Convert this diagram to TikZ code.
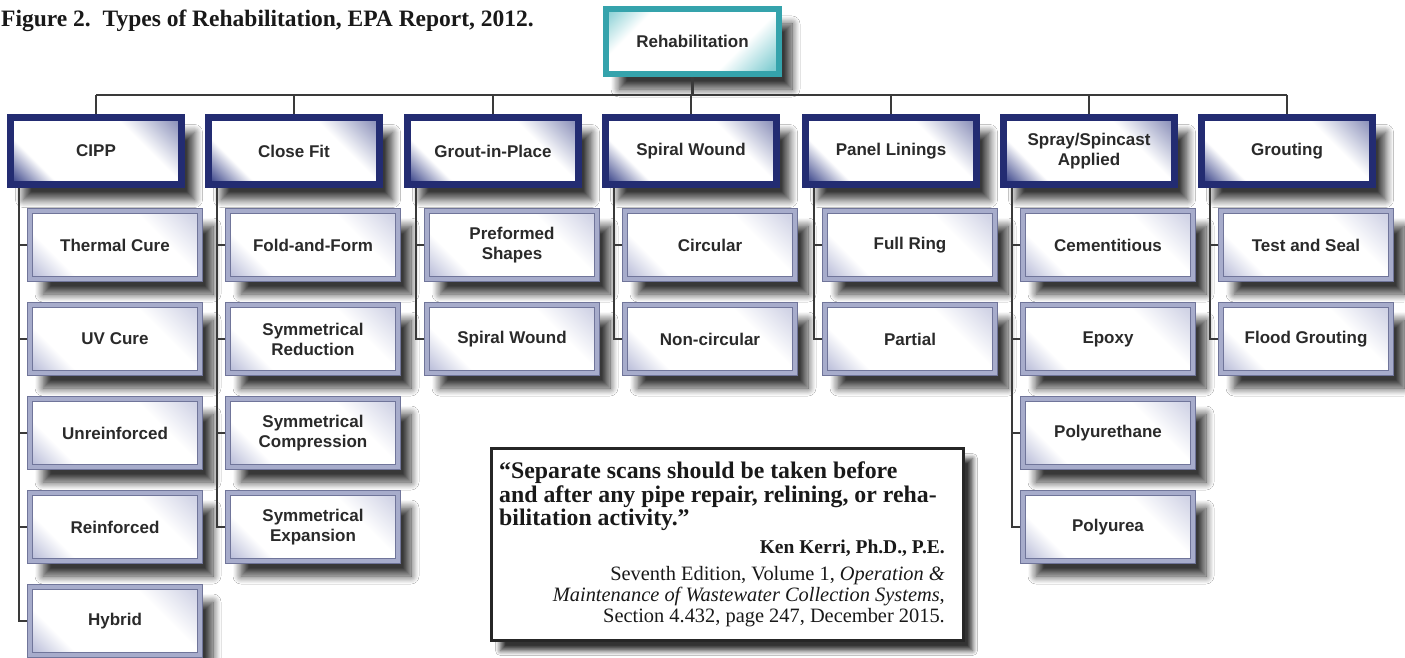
\documentclass[tikz,border=0pt]{standalone}
\usepackage{fontspec}
\setmainfont{Liberation Serif}
\newfontfamily\lsans{Liberation Sans}
\usetikzlibrary{shadows.blur,calc}
\definecolor{navyb}{HTML}{232C72}
\definecolor{navyg}{HTML}{2A3580}
\definecolor{lavb}{HTML}{A7ACCB}
\definecolor{lavd}{HTML}{70759A}
\definecolor{lavg}{HTML}{B4B8D6}
\definecolor{tealb}{HTML}{35A3AC}
\definecolor{tealg}{HTML}{4DB8BF}
\definecolor{linec}{HTML}{3A3A3A}
\definecolor{txt}{HTML}{2A2A2A}
\pgfdeclarehorizontalshading{pshade}{100bp}{color(0bp)=(navyg); color(15bp)=(navyg); color(29bp)=(white); color(66bp)=(white); color(82bp)=(navyg!50!white); color(100bp)=(navyg)}
\pgfdeclarehorizontalshading{cshade}{100bp}{color(0bp)=(lavg); color(15bp)=(lavg); color(29bp)=(white); color(66bp)=(white); color(82bp)=(lavg!60!white); color(100bp)=(lavg)}
\pgfdeclarehorizontalshading{tshade}{100bp}{color(0bp)=(tealg); color(15bp)=(tealg!70!white); color(29bp)=(white); color(66bp)=(white); color(82bp)=(tealg!70!white); color(100bp)=(tealg)}
\tikzset{
  lbl/.style={font=\lsans\bfseries\fontsize{17}{20}\selectfont, text=txt, align=center, inner sep=0pt},
  shad/.style={blur shadow={shadow xshift=13pt, shadow yshift=-15pt, shadow blur radius=8pt, shadow opacity=78, shadow blur steps=10}},
  parentbox/.style={lbl, shad, shade, shading=pshade, shading angle=45, draw=navyb, line width=7pt, minimum width=171pt, minimum height=67pt, outer sep=3.5pt},
  childbox/.style={lbl, shad, shade, shading=cshade, shading angle=45, draw=lavd, double=lavb, double distance=4pt, line width=1pt, minimum width=170pt, minimum height=68pt, outer sep=3pt},
  rootbox/.style={lbl, shad, shade, shading=tshade, shading angle=-45, draw=tealb, line width=6pt, minimum width=173pt, minimum height=65pt, outer sep=3pt},
  conn/.style={draw=linec, line width=2.4pt},
  quotefont/.style={font=\bfseries\fontsize{23.8}{24}\selectfont, inner sep=0pt, text=black!90},
  citefont/.style={font=\fontsize{20.4}{21}\selectfont, inner sep=0pt, text=black!90},
}
\begin{document}
\begin{tikzpicture}[x=1pt,y=-1pt]
\useasboundingbox (0,0) rectangle (1405,658);
\fill[white] (0,0) rectangle (1405,658);

% title
\node[anchor=base west, font=\bfseries\fontsize{23.5}{26}\selectfont, inner sep=0pt, text=black!90] (title) at (1,27) {Figure 2.\ \ Types of Rehabilitation, EPA Report, 2012.};

% root
\node[rootbox] (root) at (692.5,41.5) {Rehabilitation};

% parents
\node[parentbox] (p1) at (96,151) {CIPP};
\node[parentbox] (p2) at (294,151) {Close Fit};
\node[parentbox] (p3) at (493,151) {Grout-in-Place};
\node[parentbox] (p4) at (691,151) {Spiral Wound};
\node[parentbox] (p5) at (891,151) {Panel Linings};
\node[parentbox] (p6) at (1089,151) {Spray/Spincast\\Applied};
\node[parentbox] (p7) at (1287,151) {Grouting};

% children CIPP
\node[childbox] (c11) at (115,245) {Thermal Cure};
\node[childbox] (c12) at (115,339) {UV Cure};
\node[childbox] (c13) at (115,433) {Unreinforced};
\node[childbox] (c14) at (115,527) {Reinforced};
\node[childbox] (c15) at (115,621) {Hybrid};
% Close Fit
\node[childbox] (c21) at (313,245) {Fold-and-Form};
\node[childbox] (c22) at (313,339) {Symmetrical\\Reduction};
\node[childbox] (c23) at (313,433) {Symmetrical\\Compression};
\node[childbox] (c24) at (313,527) {Symmetrical\\Expansion};
% Grout-in-Place
\node[childbox] (c31) at (512,245) {Preformed\\Shapes};
\node[childbox] (c32) at (512,339) {Spiral Wound};
% Spiral Wound
\node[childbox] (c41) at (710,245) {Circular};
\node[childbox] (c42) at (710,339) {Non-circular};
% Panel Linings
\node[childbox] (c51) at (910,245) {Full Ring};
\node[childbox] (c52) at (910,339) {Partial};
% Spray
\node[childbox] (c61) at (1108,245) {Cementitious};
\node[childbox] (c62) at (1108,339) {Epoxy};
\node[childbox] (c63) at (1108,433) {Polyurethane};
\node[childbox] (c64) at (1108,527) {Polyurea};
% Grouting
\node[childbox] (c71) at (1306,245) {Test and Seal};
\node[childbox] (c72) at (1306,339) {Flood Grouting};

% bus connectors
\coordinate (bus) at (0,95);
\draw[conn] (p1.north |- bus) -- (p7.north |- bus);
\draw[conn] (root.south) -- (root.south |- bus);
\foreach \p in {p1,p2,p3,p4,p5,p6,p7}{
  \draw[conn] (\p.north |- bus) -- (\p.north);
}
% child connectors
\foreach \p/\cs in {p1/{c11,c12,c13,c14,c15}, p2/{c21,c22,c23,c24}, p3/{c31,c32}, p4/{c41,c42}, p5/{c51,c52}, p6/{c61,c62,c63,c64}, p7/{c71,c72}}{
  \foreach \c in \cs {
    \draw[conn] ($(\p.south west)+(12,0)$) |- (\c.west);
  }
}

% quote box
\node[draw=black!85, line width=2.5pt, fill=white, minimum width=472pt, minimum height=192pt, inner sep=0pt,
  blur shadow={shadow xshift=9pt, shadow yshift=-10pt, shadow blur radius=5pt, shadow opacity=80, shadow blur steps=8}] (qbox) at (727.5,544.5) {};
\node[quotefont, anchor=base west] (q1) at (499,478) {“Separate scans should be taken before};
\node[quotefont, anchor=base west] (q2) at (499,502) {and after any pipe repair, relining, or reha-};
\node[quotefont, anchor=base west] (q3) at (499,525) {bilitation activity.”};
\node[font=\bfseries\fontsize{19.5}{20}\selectfont, inner sep=0pt, text=black!90, anchor=base east] (ken) at (945,553) {Ken Kerri, Ph.D., P.E.};
\node[citefont, anchor=base east] (ct1) at (945,580) {Seventh Edition, Volume 1, \textit{Operation \&}};
\node[citefont, anchor=base east] (ct2) at (945,601) {\textit{Maintenance of Wastewater Collection Systems},};
\node[citefont, anchor=base east] (ct3) at (945,622) {Section 4.432, page 247, December 2015.};
\end{tikzpicture}
\end{document}
